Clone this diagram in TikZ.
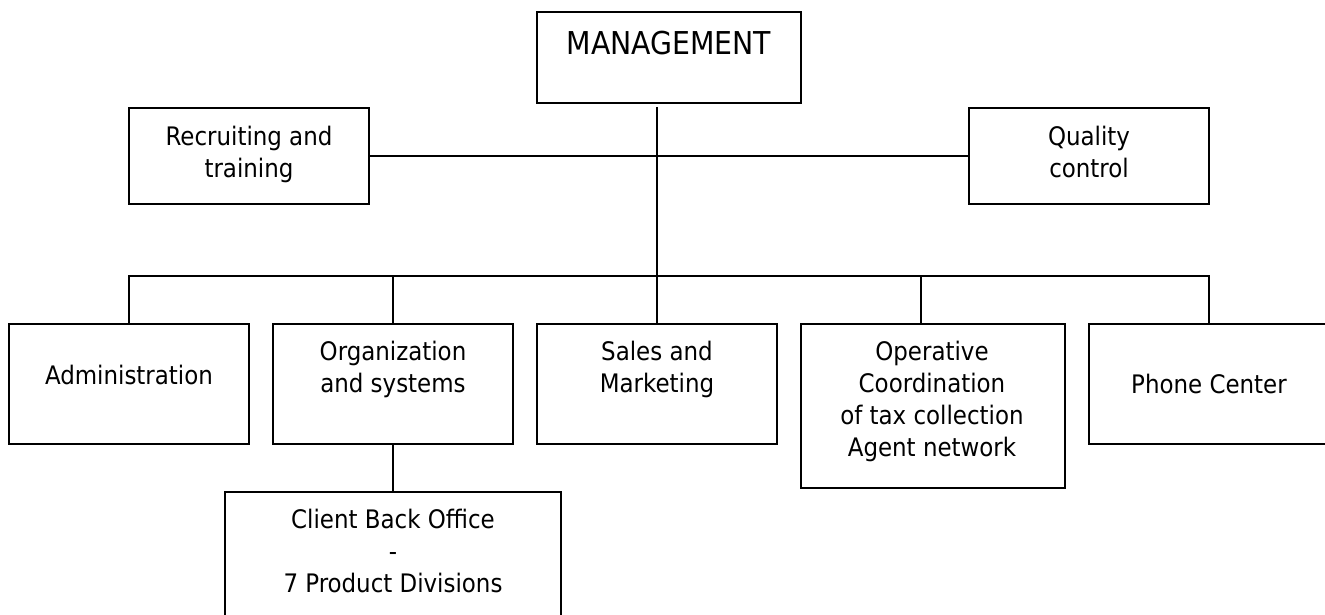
\documentclass[tikz,border=0pt]{standalone}
\usepackage{fontspec}
\setmainfont{DejaVu Sans Condensed}
\begin{document}
\begin{tikzpicture}[x=1pt,y=-1pt,
  box/.style={draw,line width=1.4pt,rectangle,inner sep=0pt},
  txt/.style={inner sep=0pt,anchor=base,align=center,font=\fontsize{25.5}{32.2}\selectfont},
  bigtxt/.style={inner sep=0pt,anchor=base,align=center,font=\fontsize{31.5}{40}\selectfont},
  link/.style={draw,line width=1.4pt}]
\useasboundingbox (0,0) rectangle (1325,615);
% boxes
\node[box,minimum width=264pt,minimum height=91pt] (mgmt) at (669,57.5) {};
\node[box,minimum width=240pt,minimum height=96pt] (recr) at (249,156) {};
\node[box,minimum width=240pt,minimum height=96pt] (qual) at (1089,156) {};
\node[box,minimum width=240pt,minimum height=120pt] (admin) at (129,384) {};
\node[box,minimum width=240pt,minimum height=120pt] (org) at (393,384) {};
\node[box,minimum width=240pt,minimum height=120pt] (sales) at (657,384) {};
\node[box,minimum width=264pt,minimum height=164pt] (oper) at (933,406) {};
\node[box,minimum width=240pt,minimum height=120pt] (phone) at (1209,384) {};
\node[box,minimum width=336pt,minimum height=148pt] (client) at (393,566) {};
% texts (anchor = baseline of the last line)
\node[bigtxt] (tmgmt) at (669,54.2) {MANAGEMENT};
\node[txt] (trecr) at (249,177.3) {Recruiting and\\training};
\node[txt] (tqual) at (1089,177.3) {Quality\\control};
\node[txt] (tadmin) at (129,384) {Administration};
\node[txt] (torg) at (393,392.5) {Organization\\and systems};
\node[txt] (tsales) at (657,392.5) {Sales and\\Marketing};
\node[txt] (toper) at (932,456.7) {Operative\\Coordination\\of tax collection\\Agent network};
\node[txt] (tphone) at (1209,393.3) {Phone Center};
\node[txt] (tclient) at (393,592.7) {Client Back Office\\-\\7 Product Divisions};
% connectors
\coordinate (bus) at (129,276);
\coordinate (mtop) at (657,107);
\coordinate (operdrop) at (921,324);
\draw[link] (recr.east) -- (qual.west);
\draw[link] (mtop) -- (sales.north);
\draw[link] (admin.north) -- (admin.north |- bus) -- (phone.north |- bus) -- (phone.north);
\draw[link] (org.north) -- (org.north |- bus);
\draw[link] (operdrop) -- (operdrop |- bus);
\draw[link] (org.south) -- (client.north);
\end{tikzpicture}
\end{document}
